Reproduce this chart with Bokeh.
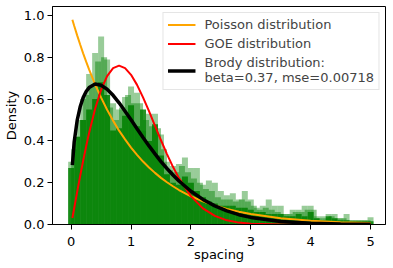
from bokeh.plotting import figure
from bokeh.models import Legend, LegendItem, Range1d, FixedTicker, PrintfTickFormatter
from bokeh.embed import file_html
from bokeh.resources import INLINE

# ---- histogram data (density per bin, bin width 0.1) ----
bin_width = 0.1
light_centers = [0.0, 0.1, 0.2, 0.3, 0.4, 0.5, 0.6, 0.7, 0.8, 0.9,
                 1.0, 1.1, 1.2, 1.3, 1.4, 1.5, 1.6, 1.7, 1.8, 1.9,
                 2.0, 2.1, 2.2, 2.3, 2.4, 2.5, 2.6, 2.7, 2.8, 2.9,
                 3.0, 3.1, 3.2, 3.3, 3.4, 3.5, 3.6, 3.7, 3.8, 3.9,
                 4.0, 4.1, 4.2, 4.3, 4.4, 4.5, 4.6, 4.7, 4.8, 4.9, 5.0]
light_density = [0.30, 0.42, 0.60, 0.72, 0.82, 0.90, 0.79, 0.58, 0.55, 0.61,
                 0.66, 0.63, 0.45, 0.53, 0.53, 0.43, 0.30, 0.28, 0.29, 0.32,
                 0.27, 0.27, 0.19, 0.21, 0.20, 0.16, 0.14, 0.15, 0.12, 0.16,
                 0.12, 0.08, 0.09, 0.12, 0.09, 0.09, 0.05, 0.07, 0.07, 0.09,
                 0.09, 0.04, 0.04, 0.05, 0.05, 0.03, 0.05, 0.02, 0.02, 0.02, 0.035]

mid_centers = [0.05, 0.15, 0.25, 0.35, 0.45, 0.55, 0.65, 0.75, 0.85, 0.95,
               1.05, 1.15, 1.25, 1.35, 1.45, 1.55, 1.65, 1.75, 1.85, 1.95,
               2.05, 2.15, 2.25, 2.35, 2.45, 2.55, 2.65, 2.75, 2.85, 2.95,
               3.05, 3.15, 3.25, 3.35, 3.45, 3.55, 3.65, 3.75, 3.85, 3.95,
               4.05, 4.15, 4.25, 4.35, 4.45, 4.55, 4.65, 4.75, 4.85, 4.95]
mid_density = [0.36, 0.50, 0.62, 0.66, 0.78, 0.80, 0.56, 0.50, 0.56, 0.62,
               0.58, 0.58, 0.50, 0.47, 0.46, 0.36, 0.26, 0.25, 0.28, 0.25,
               0.22, 0.20, 0.17, 0.16, 0.13, 0.12, 0.12, 0.11, 0.12, 0.11,
               0.09, 0.07, 0.08, 0.07, 0.06, 0.05, 0.05, 0.06, 0.06, 0.07,
               0.07, 0.03, 0.03, 0.04, 0.03, 0.03, 0.02, 0.02, 0.02, 0.02]

base_centers = light_centers
base_density = [0.27, 0.42, 0.50, 0.55, 0.60, 0.68, 0.62, 0.45, 0.46, 0.52,
                0.57, 0.47, 0.55, 0.40, 0.48, 0.33, 0.24, 0.20, 0.19, 0.23,
                0.20, 0.16, 0.13, 0.11, 0.10, 0.09, 0.09, 0.09, 0.08, 0.08,
                0.07, 0.06, 0.06, 0.05, 0.05, 0.05, 0.04, 0.04, 0.05, 0.04,
                0.06, 0.03, 0.02, 0.04, 0.03, 0.02, 0.02, 0.015, 0.015, 0.015, 0.015]

# ---- fitted curves ----
spacing = [0.02, 0.05, 0.1, 0.15, 0.2, 0.25, 0.3, 0.4, 0.5, 0.6, 0.7, 0.8, 0.9,
           1.0, 1.1, 1.2, 1.3, 1.4, 1.5, 1.6, 1.7, 1.8, 2.0, 2.2, 2.4, 2.6, 2.8,
           3.0, 3.5, 4.0, 4.5, 5.0]
poisson = [0.980, 0.951, 0.905, 0.861, 0.819, 0.779, 0.741, 0.670, 0.607, 0.549,
           0.497, 0.449, 0.407, 0.368, 0.333, 0.301, 0.273, 0.247, 0.223, 0.202,
           0.183, 0.165, 0.135, 0.111, 0.091, 0.074, 0.061, 0.050, 0.030, 0.018,
           0.011, 0.007]
goe = [0.031, 0.078, 0.156, 0.232, 0.305, 0.374, 0.439, 0.554, 0.645, 0.710,
       0.748, 0.760, 0.748, 0.716, 0.668, 0.608, 0.542, 0.472, 0.403, 0.337,
       0.276, 0.222, 0.136, 0.077, 0.041, 0.020, 0.009, 0.004, 0.0004, 0.0,
       0.0, 0.0]
brody = [0.284, 0.395, 0.498, 0.563, 0.607, 0.636, 0.655, 0.672, 0.666, 0.647,
         0.618, 0.582, 0.542, 0.501, 0.458, 0.416, 0.376, 0.338, 0.301, 0.268,
         0.237, 0.208, 0.159, 0.120, 0.089, 0.065, 0.047, 0.034, 0.014, 0.0055,
         0.002, 0.0007]

x_ticks = [0, 1, 2, 3, 4, 5]
y_ticks = [0.0, 0.2, 0.4, 0.6, 0.8, 1.0]

FONT = "DejaVu Sans"

p = figure(width=388, height=264, output_backend="svg", toolbar_location=None,
           x_range=Range1d(-0.312, 5.25), y_range=Range1d(0, 1.043),
           min_border_left=0, min_border_right=3, min_border_top=6, min_border_bottom=0)

p.vbar(x=light_centers, width=bin_width, top=light_density, bottom=0,
       fill_color="green", fill_alpha=0.4, line_color=None)
p.vbar(x=mid_centers, width=bin_width, top=mid_density, bottom=0,
       fill_color="green", fill_alpha=0.45, line_color=None)
p.vbar(x=base_centers, width=bin_width, top=base_density, bottom=0,
       fill_color="green", fill_alpha=0.85, line_color=None)

r1 = p.line(spacing, poisson, line_color="orange", line_width=2)
r2 = p.line(spacing, goe, line_color="red", line_width=2)
r3 = p.line(spacing, brody, line_color="black", line_width=3.5)

legend = Legend(items=[
    LegendItem(label="Poisson distribution", renderers=[r1]),
    LegendItem(label="GOE distribution", renderers=[r2]),
    LegendItem(label="Brody distribution:\nbeta=0.37, mse=0.00718", renderers=[r3]),
], location="top_right", margin=6, padding=4, spacing=4,
   glyph_width=28, glyph_height=15, label_height=15, label_standoff=9,
   label_text_font=FONT, label_text_font_size="13px", label_text_line_height=1.15,
   border_line_color="#cccccc", border_line_width=1,
   background_fill_color="white", background_fill_alpha=0.8)
p.add_layout(legend)

p.xgrid.visible = False
p.ygrid.visible = False
p.outline_line_color = "black"
p.outline_line_width = 1
p.outline_line_alpha = 1

p.xaxis.ticker = FixedTicker(ticks=x_ticks)
p.yaxis.ticker = FixedTicker(ticks=y_ticks)
p.yaxis.formatter = PrintfTickFormatter(format="%.1f")
p.xaxis.axis_label = "spacing"
p.yaxis.axis_label = "Density"
for ax in (p.xaxis, p.yaxis):
    ax.axis_label_text_font = FONT
    ax.axis_label_text_font_size = "13px"
    ax.axis_label_text_font_style = "normal"
    ax.axis_label_text_color = "black"
    ax.major_label_text_font = FONT
    ax.major_label_text_font_size = "13px"
    ax.major_label_text_color = "black"
    ax.axis_line_color = "black"
    ax.major_tick_line_color = "black"
    ax.major_tick_out = 5
    ax.major_tick_in = 0
    ax.minor_tick_line_color = None
p.xaxis.major_label_standoff = 7
p.xaxis.axis_label_standoff = -2
p.yaxis.major_label_standoff = 3
p.yaxis.axis_label_standoff = 2

open("out.html", "w").write(file_html(p, INLINE))
